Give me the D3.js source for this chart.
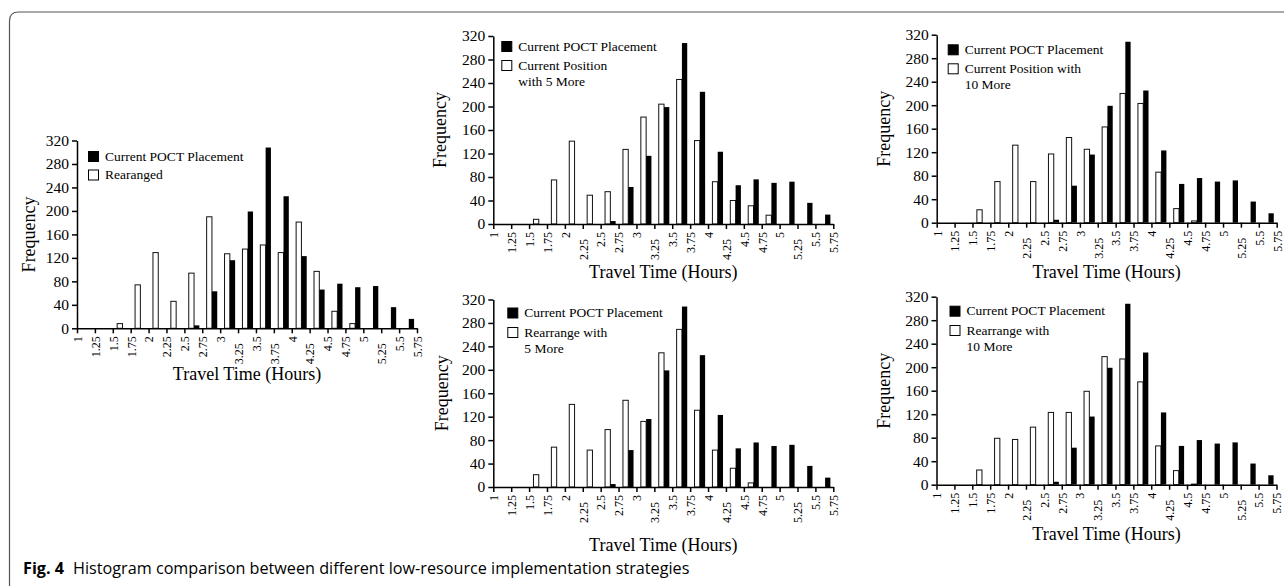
<!DOCTYPE html>
<html lang="en">
<head>
<meta charset="UTF-8">
<title>Fig. 4 Histogram comparison</title>
<style>
    body { margin: 0; padding: 0; background: #fff; }
    svg { display: block; }
    .axis text { font-family: "Liberation Serif", "DejaVu Serif", serif; fill: #000; }
    .axis path, .axis line { stroke: #000; stroke-width: 1.5px; }
    .chart-text { font-family: "Liberation Serif", "DejaVu Serif", serif; fill: #000; }
</style>
</head>
<body>
<div id="chart"></div>
<script src="https://d3js.org/d3.v7.min.js"></script>
<script>
    // tick labels on the x axis (bin edges, hours)
    const tickLabels = ["1", "1.25", "1.5", "1.75", "2", "2.25", "2.5", "2.75", "3", "3.25",
        "3.5", "3.75", "4", "4.25", "4.5", "4.75", "5", "5.25", "5.5", "5.75"];
    const yTicks = [0, 40, 80, 120, 160, 200, 240, 280, 320];

    // frequencies per bin (bin i lies between tickLabels[i] and tickLabels[i+1])
    const currentPlacement = [0, 0, 0, 0, 0, 0, 5, 63, 116, 199, 308, 225, 123, 66, 76, 70, 72, 36, 16];
    const rearanged = [0, 0, 8, 74, 129, 46, 94, 190, 127, 135, 142, 129, 181, 97, 29, 8, 0, 0, 0];
    const currentPlus5 = [0, 0, 8, 75, 141, 49, 55, 127, 182, 204, 246, 142, 72, 40, 31, 15, 0, 0, 0];
    const rearrangePlus5 = [0, 0, 21, 68, 141, 63, 98, 148, 112, 229, 269, 131, 63, 32, 7, 0, 0, 0, 0];
    const currentPlus10 = [0, 0, 22, 70, 132, 70, 117, 145, 125, 163, 220, 203, 86, 24, 3, 0, 0, 0, 0];
    const rearrangePlus10 = [0, 0, 25, 79, 77, 98, 123, 123, 159, 218, 214, 175, 66, 24, 1, 0, 0, 0, 0];

    const W = 1284, H = 586;

    const panels = [
        { alt: rearanged, label: ["Rearanged"], x0: 77, x1: 417, top: 140.5, zero: 328.3,
          leg: [11, 10.5], legGap: 18.5, titleY: 52, freqX: 42, drop: ["3.25", "3.75", "4.25", "5.25"] },
        { alt: currentPlus5, label: ["Current Position", "with 5 More"], x0: 493.3, x1: 833.3, top: 36, zero: 224,
          leg: [8, 5], legGap: 19, titleY: 54, freqX: 47, drop: ["2.25", "3.25", "4.25", "5.25"] },
        { alt: rearrangePlus5, label: ["Rearrange with", "5 More"], x0: 493.3, x1: 833.3, top: 299.5, zero: 487,
          leg: [14, 8], legGap: 19.5, titleY: 64, freqX: 45, drop: ["2.25", "3.25", "4.25", "5.25"] },
        { alt: currentPlus10, label: ["Current Position with", "10 More"], x0: 936.7, x1: 1276.7, top: 34.7, zero: 222.7,
          leg: [11, 9.6], legGap: 19, titleY: 55, freqX: 47, drop: ["2.25", "3.25", "4.25", "5.25"] },
        { alt: rearrangePlus10, label: ["Rearrange with", "10 More"], x0: 936.5, x1: 1276.5, top: 296.7, zero: 484.7,
          leg: [13, 9], legGap: 19.3, titleY: 55, freqX: 47, drop: ["2.25", "3.25", "4.25", "5.25"] }
    ];

    const svg = d3.select("#chart").append("svg")
        .attr("width", W)
        .attr("height", H);

    svg.append("rect").attr("width", W).attr("height", H).attr("fill", "#fff");

    // rounded frame (top-left corner)
    const r = 9;
    svg.append("path")
        .attr("d", `M9.5,${H + 2} L9.5,${12 + r} Q9.5,12 ${9.5 + r},12 L${W},12`)
        .attr("fill", "none")
        .attr("stroke", "#555")
        .attr("stroke-width", 1.2);

    const tickValues = tickLabels.map(Number);
    const bins = d3.range(tickValues.length - 1);

    panels.forEach(p => {
        const g = svg.append("g");

        const x = d3.scaleLinear().domain([1, 5.75]).range([p.x0, p.x1]);
        const y = d3.scaleLinear().domain([0, 320]).range([p.zero, p.top]);
        const band = d3.scaleBand().domain(bins).range([p.x0, p.x1]).padding(0);
        const inner = d3.scaleBand().domain(["alt", "current"])
            .range([0, band.bandwidth()])
            .paddingInner(0)
            .paddingOuter(0.69)
            .align(0.6);

        const rows = bins.map(i => ({ bin: i, alt: p.alt[i], current: currentPlacement[i] }));

        // bars
        const binG = g.selectAll(".bin").data(rows).enter().append("g")
            .attr("transform", d => `translate(${band(d.bin)},0)`);

        binG.filter(d => d.alt > 0).append("rect")
            .attr("x", inner("alt"))
            .attr("width", inner.bandwidth())
            .attr("y", d => y(d.alt))
            .attr("height", d => y(0) - y(d.alt))
            .attr("fill", "#fff")
            .attr("stroke", "#111")
            .attr("stroke-width", 1);

        binG.filter(d => d.current > 0).append("rect")
            .attr("x", inner("current"))
            .attr("width", inner.bandwidth())
            .attr("y", d => y(d.current))
            .attr("height", d => y(0) - y(d.current))
            .attr("fill", "#000");

        // x axis
        const xAxis = g.append("g")
            .attr("class", "axis")
            .attr("transform", `translate(0,${p.zero})`)
            .call(d3.axisBottom(x).tickValues(tickValues)
                .tickFormat((d, i) => tickLabels[i])
                .tickSize(5).tickSizeOuter(0));
        xAxis.selectAll("text")
            .attr("transform", "rotate(-90)")
            .attr("x", (d, i) => p.drop.includes(tickLabels[i]) ? -15 : -8)
            .attr("y", 0)
            .attr("dy", "0.36em")
            .style("text-anchor", "end")
            .style("font-size", "12px");

        // y axis
        const yAxis = g.append("g")
            .attr("class", "axis")
            .attr("transform", `translate(${p.x0},0)`)
            .call(d3.axisLeft(y).tickValues(yTicks).tickSize(5).tickSizeOuter(0));
        yAxis.selectAll("text")
            .attr("x", -8)
            .style("font-size", "15.5px");

        // axis titles
        g.append("text")
            .attr("class", "chart-text")
            .attr("x", (p.x0 + p.x1) / 2)
            .attr("y", p.zero + p.titleY)
            .style("text-anchor", "middle")
            .style("font-size", "18px")
            .text("Travel Time (Hours)");

        g.append("text")
            .attr("class", "chart-text")
            .attr("transform", `translate(${p.x0 - p.freqX},${(p.top + p.zero) / 2}) rotate(-90)`)
            .style("text-anchor", "middle")
            .style("font-size", "18px")
            .text("Frequency");

        // legend
        const lx = p.x0 + p.leg[0], ly = p.top + p.leg[1];
        const legend = [
            { fill: "#000", lines: ["Current POCT Placement"] },
            { fill: "#fff", lines: p.label }
        ];
        legend.forEach((item, k) => {
            const yy = ly + k * p.legGap;
            g.append("rect")
                .attr("x", lx + 0.5).attr("y", yy + 0.5)
                .attr("width", 10).attr("height", 10)
                .attr("fill", item.fill)
                .attr("stroke", "#000").attr("stroke-width", 1);
            item.lines.forEach((t, j) => {
                g.append("text")
                    .attr("class", "chart-text")
                    .attr("x", lx + 17)
                    .attr("y", yy + 9.5 + j * 16)
                    .style("font-size", "13.5px")
                    .text(t);
            });
        });
    });

    // caption
    const cap = svg.append("text")
        .attr("x", 23)
        .attr("y", 574)
        .style("font-family", "'Open Sans', 'Noto Sans', sans-serif")
        .style("font-size", "16.2px")
        .attr("fill", "#000");
    cap.append("tspan").style("font-weight", "bold").text("Fig. 4");
    cap.append("tspan").attr("dx", 9).text("Histogram comparison between different low-resource implementation strategies");
</script>
</body>
</html>
